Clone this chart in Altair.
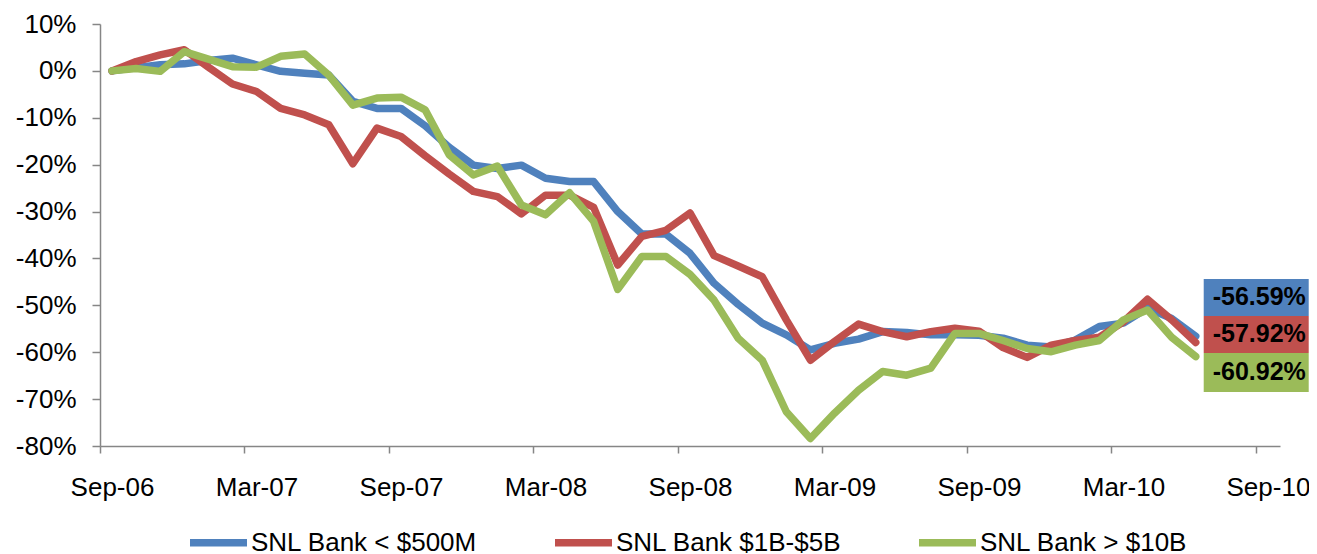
import json
import altair as alt
import pandas as pd

# ---------------- data ----------------
series_names = ["SNL Bank < $500M", "SNL Bank $1B-$5B", "SNL Bank > $10B"]
series_colors = ["#4F81BD", "#C0504D", "#9BBB59"]

# monthly points, Sep-06 .. Jun-10
months = [d.strftime("%b-%y") for d in pd.date_range("2006-09-01", periods=46, freq="MS")]

tick_labels = ["Sep-06", "Mar-07", "Sep-07", "Mar-08", "Sep-08",
               "Mar-09", "Sep-09", "Mar-10", "Sep-10"]

bank_small = [0, 0.7, 1.3, 1.5, 2.2, 2.7, 1.3, -0.1, -0.5, -0.9,
              -6.5, -8.0, -8.0, -11.7, -16.3, -20.1, -20.8, -20.1, -22.9, -23.6,
              -23.6, -30.0, -34.8, -34.8, -38.9, -45.3, -49.8, -53.8, -56.3, -59.5,
              -58.1, -57.2, -55.6, -55.8, -56.3, -56.3, -56.4, -57.0, -58.5, -58.9,
              -57.4, -54.5, -53.8, -50.6, -52.8, -56.59]
bank_mid = [0, 2.0, 3.4, 4.5, 0.8, -2.8, -4.4, -8.0, -9.4, -11.5,
            -19.8, -12.2, -14.0, -18.1, -22.0, -25.7, -26.8, -30.5, -26.5, -26.5,
            -29.1, -41.4, -35.3, -34.0, -30.3, -39.4, -41.6, -43.9, -53.1, -61.7,
            -57.7, -54.0, -55.6, -56.7, -55.6, -54.9, -55.5, -59.0, -61.1, -58.5,
            -57.5, -56.8, -53.5, -48.7, -53.1, -57.92]
bank_large = [0, 0.5, -0.1, 4.1, 2.5, 0.9, 0.8, 3.1, 3.6, -0.9,
              -7.3, -5.8, -5.6, -8.3, -17.9, -22.2, -20.3, -28.6, -30.7, -26.0,
              -32.1, -46.6, -39.6, -39.6, -43.4, -48.9, -57.0, -61.7, -72.7, -78.4,
              -73.0, -68.1, -64.1, -64.9, -63.4, -56.0, -56.0, -57.5, -59.2, -59.9,
              -58.5, -57.5, -53.1, -51.0, -56.8, -60.92]

end_labels = ["-56.59%", "-57.92%", "-60.92%"]

# ---------------- styling ----------------
FONT = "Liberation Sans"
AXIS_GRAY = "#868686"
label_box_offsets = [(-57.3, -20.3), (-26.5, 10.5), (-3.6, 35.4)]
label_text_dy = [-38.8, -8.0, 15.9]

all_series = [bank_small, bank_mid, bank_large]
frames = []
for name, vals in zip(series_names, all_series):
    frames.append(pd.DataFrame({"idx": list(range(len(vals))),
                                "month": months[:len(vals)],
                                "value": vals,
                                "series": name}))

color_scale = alt.Scale(domain=series_names, range=series_colors)

x_enc = alt.X("idx:Q",
              scale=alt.Scale(domain=[-0.5, 48.5], nice=False, zero=False),
              axis=alt.Axis(values=[-0.5 + 6 * k for k in range(9)],
                            labelExpr=f"{json.dumps(tick_labels)}[round((datum.value + 0.5) / 6)]",
                            labelOffset=12, labelFlush=False, labelOverlap=False,
                            tickSize=7, labelPadding=21, grid=False, title=None,
                            domainColor=AXIS_GRAY, tickColor=AXIS_GRAY,
                            domainWidth=1.5, tickWidth=1.5,
                            labelFont=FONT, labelFontSize=26, labelColor="black"))
y_enc = alt.Y("value:Q",
              scale=alt.Scale(domain=[-80, 10], nice=False, zero=False),
              axis=alt.Axis(values=list(range(-80, 11, 10)),
                            labelExpr="datum.value + '%'",
                            tickSize=8, labelPadding=16, grid=False, title=None,
                            domainColor=AXIS_GRAY, tickColor=AXIS_GRAY,
                            domainWidth=1.5, tickWidth=1.5,
                            labelFont=FONT, labelFontSize=26, labelColor="black"))

layers = []
for i, df in enumerate(frames):
    layers.append(
        alt.Chart(df).mark_line(strokeWidth=7.5, strokeCap="round", strokeJoin="round").encode(
            x=x_enc, y=y_enc,
            color=alt.Color("series:N", scale=color_scale,
                            legend=alt.Legend(title=None, orient="none", direction="horizontal",
                                              legendX=86, legendY=486,
                                              symbolType="stroke", symbolSize=3249,
                                              symbolStrokeWidth=7.5, columnPadding=62,
                                              labelOffset=0, labelLimit=600,
                                              labelFont=FONT, labelFontSize=26,
                                              labelColor="black"))
        )
    )

for i, df in enumerate(frames):
    last = df.tail(1).assign(label=end_labels[i])
    y0, y1 = label_box_offsets[i]
    layers.append(
        alt.Chart(last).mark_rect(color=series_colors[i], xOffset=8, x2Offset=113,
                                  yOffset=y0, y2Offset=y1).encode(
            x="idx:Q", x2="idx:Q", y="value:Q", y2="value:Q")
    )
    layers.append(
        alt.Chart(last).mark_text(align="left", baseline="middle", dx=17, dy=label_text_dy[i],
                                  font=FONT, fontSize=25, fontWeight="bold",
                                  color="black").encode(
            x="idx:Q", y="value:Q", text="label:N")
    )

chart = alt.layer(*layers).properties(
    width=1180, height=422,
    autosize=alt.AutoSizeParams(type="none"),
    padding={"left": 92, "top": 16, "right": 29, "bottom": 108},
).configure_view(stroke=None)

chart.save("out.html", embed_options={"renderer": "svg", "actions": False})
